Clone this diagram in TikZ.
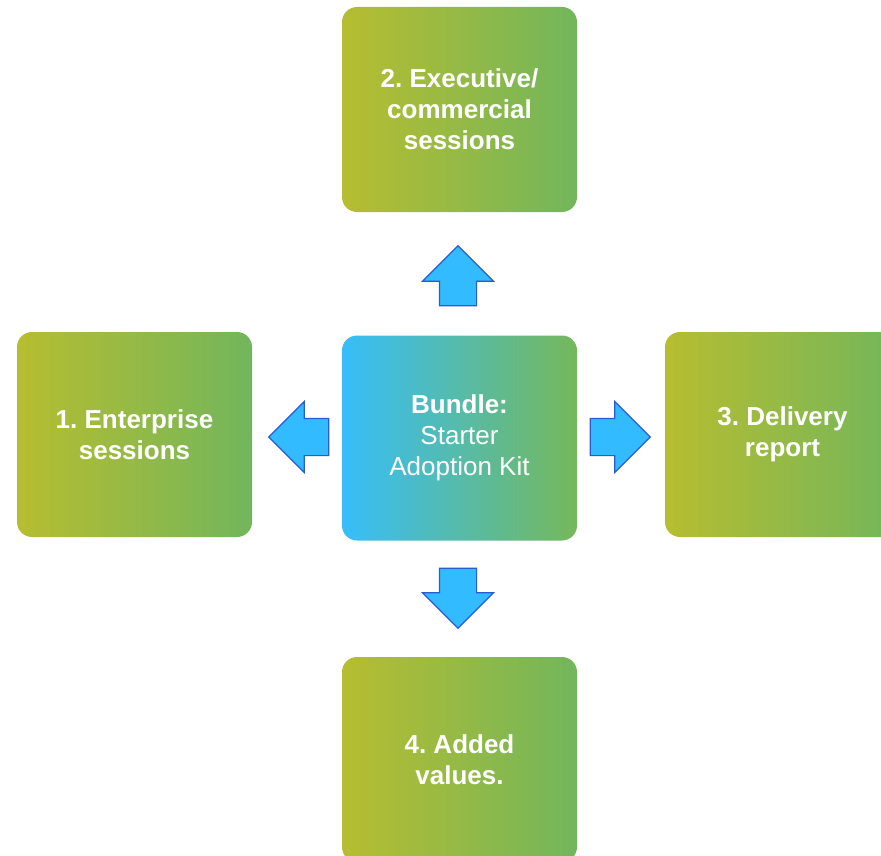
\documentclass[tikz,border=0pt]{standalone}
\usepackage{fontspec}
\setmainfont{Liberation Sans}
\usetikzlibrary{shapes.arrows}
\definecolor{boxleft}{HTML}{B7BD30}
\definecolor{boxright}{HTML}{72B65C}
\definecolor{bundleleft}{HTML}{36BEF9}
\definecolor{bundleright}{HTML}{76B85A}
\definecolor{arrowfill}{HTML}{33BBFF}
\definecolor{arrowline}{HTML}{2A5BD7}
\frenchspacing
\begin{document}
\begin{tikzpicture}[x=1pt,y=-1pt]
\tikzstyle{box} = [rectangle, rounded corners=15pt, minimum width=235pt, minimum height=205pt, align=center, text=white, font=\fontsize{26}{31}\selectfont\bfseries, left color=boxleft, right color=boxright]
\tikzstyle{bundle} = [box, left color=bundleleft, right color=bundleright, font=\fontsize{26}{31}\selectfont]
\tikzstyle{bigarrow} = [single arrow, single arrow head extend=17pt, single arrow tip angle=90, minimum height=60pt, inner sep=18pt, fill=arrowfill, draw=arrowline, line width=1.2pt]

    % frame of the slide
    \path[use as bounding box, clip] (0,0) rectangle (881,856);

    \node (kit) at (459.5,438) [bundle] {\textbf{Bundle:}\\Starter\\Adoption Kit};

    \node (enterprise) at (134.5,434.5) [box] {1. Enterprise\\sessions};
    \node (executive) at (459.5,109.5) [box] {2. Executive/\\commercial\\sessions};
    \node (delivery) at (782.5,434.5) [box] {3. Delivery\\report};
    \node (values) at (459.5,759.5) [box] {4. Added\\values.};

    \node (toexec) at (458,285) [bigarrow, shape border rotate=90] {};
    \node (toenter) at (308,437) [bigarrow, shape border rotate=180] {};
    \node (todeliv) at (611,437) [bigarrow] {};
    \node (tovalues) at (458,589) [bigarrow, shape border rotate=270] {};
\end{tikzpicture}
\end{document}
